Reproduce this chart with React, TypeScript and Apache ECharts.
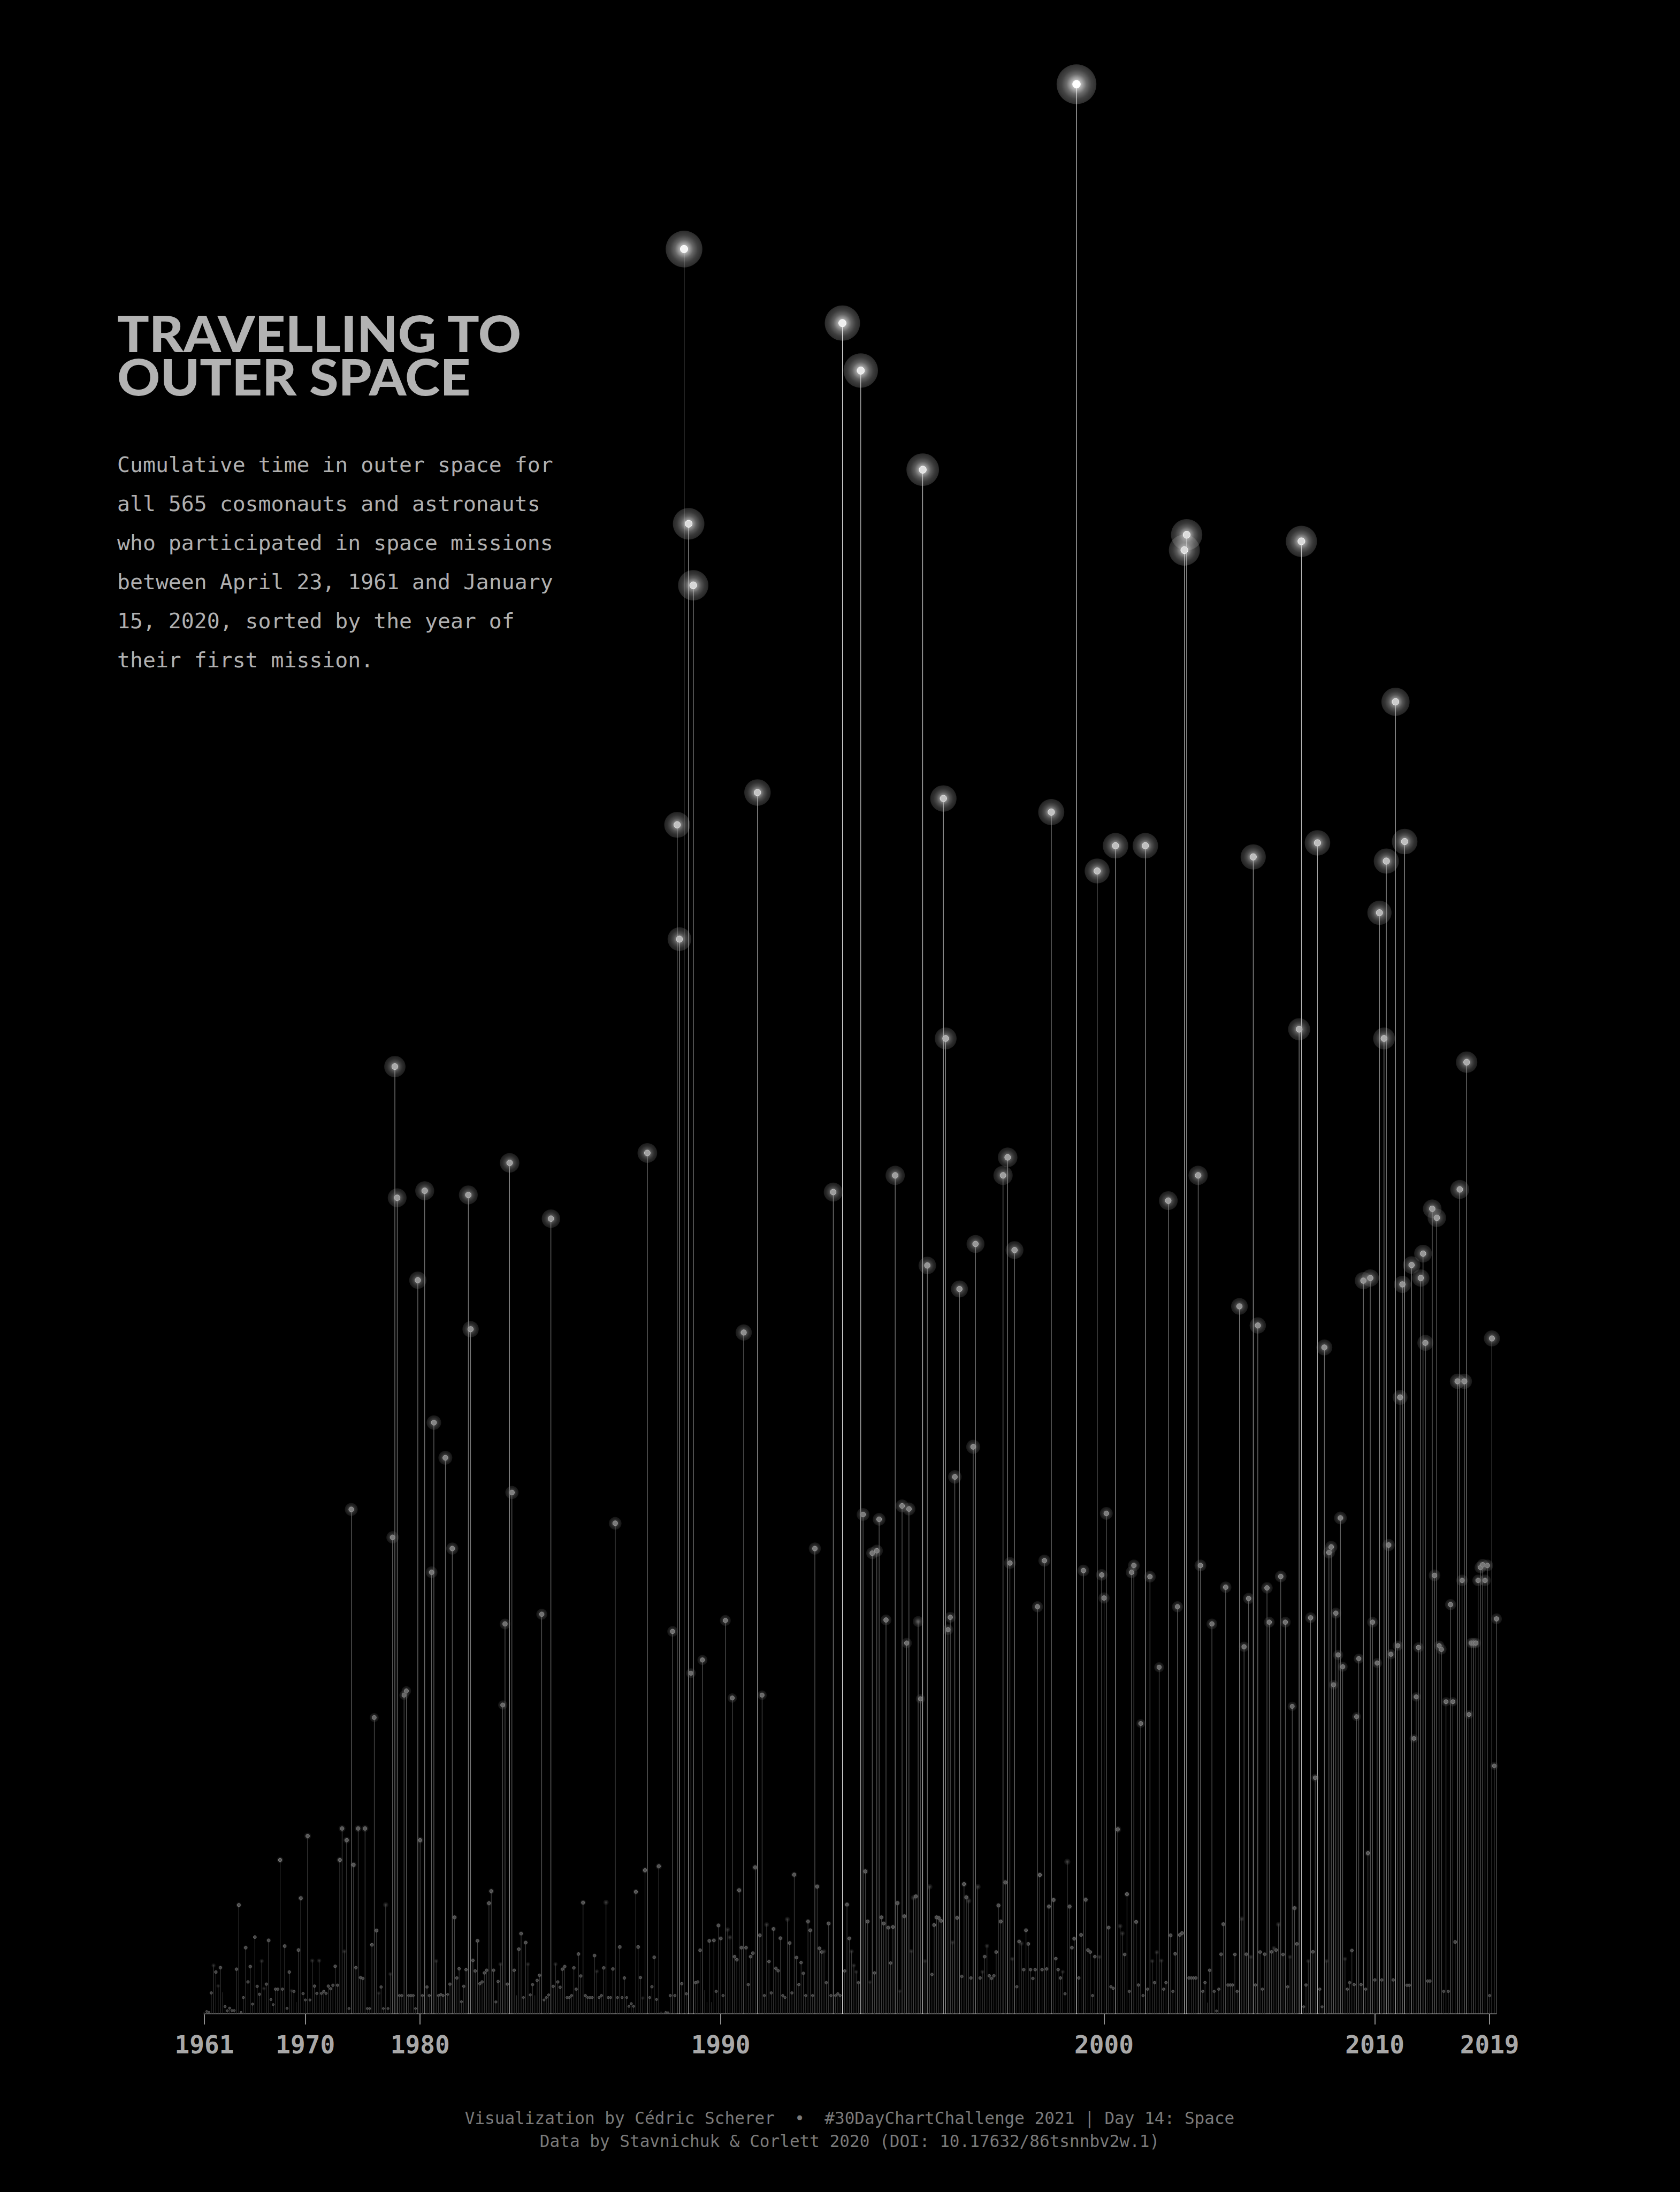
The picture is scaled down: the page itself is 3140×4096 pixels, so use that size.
import React, { useEffect, useRef } from "react";
import * as echarts from "echarts";

// Cumulative days in space per astronaut, sorted by year of first mission
const days1961to1969 = [
  0.1, 1.1, 0.7, 9.5, 22, 19, 12.7, 21, 9.8, 3.3,
  1.4, 2.6, 1.5, 1.5, 20.3, 49.5, 0.7, 7.4, 30.1, 14.5,
  21.5, 4.4, 34.9, 12.5, 8.9, 24.0, 11.5, 13.5, 33.4, 6.5,
  4.2, 11.2, 11.2, 70, 11.2, 30.8, 2.5, 19, 10.5, 10.2,
  5.3, 29, 52.6, 9.2,
];
const days1970to1979 = [
  6.3, 80.9, 6.3, 24.2, 12.6, 9.3,
  24.2, 9.3, 10.2, 9.3, 12.6, 11.4, 13, 21.6, 13, 70,
  84.3, 28.4, 79, 2.4, 229.5, 67.8, 21, 84.3, 16.5, 16.1,
  84.3, 2.4, 2.4, 31.4, 134.8, 37.9, 9.4, 12.2, 2.4, 49.6,
  2.4, 18.1, 216.8, 431, 371.3, 8.3, 8.3, 145, 146.9, 8.3,
  8.3, 8.3, 2.4, 333.8,
];
const days1980to1989 = [
  79, 8.3, 374.5, 12.2, 8.3, 200.9,
  269, 24.0, 8.3, 8.8, 8.3, 253, 8.8, 13.5, 211.7, 43.9,
  16.3, 20.5, 5.5, 12.5, 20.1, 372.6, 311.5, 24.3, 19.5, 33.2,
  13.7, 14.5, 18.6, 19.8, 50.3, 55.8, 19.8, 5.4, 14.7, 22.6,
  140.5, 177.4, 13.5, 387.2, 237.2, 19.8, 8.4, 29.4, 36.5, 7.4,
  32.4, 22.6, 8.6, 13.3, 8.4, 15.2, 17.5, 181.8, 6.3, 7.4,
  8.6, 361.8, 12.5, 22.6, 14.5, 12.1, 20.3, 21.5, 7.4, 7.4,
  8.3, 20.9, 11.2, 27.2, 17.2, 50.6, 8.3, 7.4, 7.4, 7.4,
  26.5, 19.3, 7.4, 8.3, 20.9, 50.7, 7.4, 7.4, 20.4, 223.2,
  7.4, 30.4, 7.4, 16.3, 7.4, 3.4, 4.6, 3.4, 55.5, 30.4,
  16.5, 7.2, 65.3, 391.7, 7.4, 12.3, 25.7, 6.5, 67.1, 0.4,
  0.6, 0.7, 0.5, 8.3, 174, 8.3, 541, 489, 13.7, 803,
  9.1, 678, 155, 650, 14.2, 14.5, 28.9, 161, 10.7, 5.3,
  33.2, 5.3, 33.4, 10.2, 40.2,
];
const days1990to1999 = [
  34.3, 8.3, 179, 38.3, 34.8, 143.7, 26.0, 24.6, 56.2, 30.1,
  310, 30.1, 13.3, 26.0, 27.6, 66.6, 555.7, 35.7, 145, 8.3,
  40.6, 23.8, 9.5, 38.6, 20.7, 19.6, 34.4, 8.3, 7.4, 43.0,
  32.2, 9.5, 63.3, 25.6, 13.3, 23.3, 18.4, 8.3, 42.0, 38.0,
  8.3, 211.7, 57.9, 29.8, 28.1, 28.4, 14.2, 41.1, 8.3, 373.9,
  8.3, 9.1, 8.3, 769.3, 19.5, 49.7, 34.3, 28.4, 22.0, 19.1,
  14.2, 747.7, 227.2, 64.8, 42.0, 14.4, 209.6, 18.6, 210.7, 225,
  43.9, 41.1, 179.2, 39.2, 23.1, 39.5, 381.5, 50.4, 10.3, 231.1,
  44.4, 168.7, 229.7, 28.5, 52.8, 53.4, 178.5, 143.3, 702.6, 24.0,
  340.5, 57.8, 17.9, 40.4, 43.9, 43.6, 42.3, 553, 443.8, 174.8,
  180.4, 32.5, 244.3, 43.7, 329.8, 17.0, 59.0, 53.0, 51.4, 16.3,
  258, 350.3, 57.8, 16.3, 19.1, 26.0, 30.9, 17.3, 16.1, 17.3,
  28.1, 49.3, 42.0, 381.5, 59.8, 389.7, 205.1, 25.0, 347.5, 12.3,
  32.9, 32.0, 20.1, 38.0, 31.8, 20.1, 16.1, 20.1, 185.2, 63.2,
  20.1, 206.2, 20.4, 48.8, 546.8, 51.8, 25.1, 20.1, 16.3, 19.1,
  9.1, 69.2, 48.8, 30.1, 34.2, 878, 16.3, 35.9, 201.7, 51.9,
  29.0, 28.1, 8.3, 26.0, 520, 25.9, 199.7,
];
const days2000to2009 = [
  189.2, 227.7, 39.2, 12.3, 11.6, 531.5, 83.9, 39.9,
  36.6, 27, 54.4, 10.2, 200.9, 204, 41.8, 13.1, 132.1, 8.3,
  531.5, 11.2, 198.9, 24, 14.2, 28, 157.7, 24.2, 11.2, 14.2,
  370, 35.7, 10.2, 27.3, 185.2, 35.9, 36.7, 666, 673, 16.3,
  16.3, 16.3, 16.3, 381.5, 204, 10.2, 14.2, 5.1, 19.8, 177.4,
  10.2, 1.3, 11.2, 27.1, 40.8, 194.1, 13.1, 13.1, 13.1, 27.0,
  10.2, 321.9, 43.2, 167, 27.1, 189, 25.9, 526.4, 13.1, 313.2,
  28.1, 11.2, 27.1, 193.8, 178.2, 28.2, 29.9, 29.0, 40.7, 199,
  27.0, 178.2, 12.3, 25.9, 139.9, 48.1, 31.8, 448, 670, 3.2,
  13.1, 24.0, 180.2, 28.2, 107.4, 532.8, 11.2, 3.2, 303.2, 24.0,
  209.9, 212.4, 149.7, 182.3, 163.3, 225.6, 157.9, 25.0, 11.2, 14.2,
  28.8, 13.3, 135.2, 161.6, 13.3, 333.6, 11.2, 73.1, 334.8, 178.2,
];
const days2010to2019 = [
  15.4, 159.6, 501, 15.4, 443.8, 524.5, 213.3, 163.6, 15.4, 597,
  167.5, 280.5, 331.9, 533.4, 13.0, 13.0, 340.7, 125.3, 144.2, 166.7,
  334.8, 345.9, 305.3, 14.9, 14.9, 366.3, 199.5, 362.2, 167.5, 165.8,
  10.2, 142, 10.2, 186.2, 142, 32.7, 287.8, 375.1, 197.2, 287.8,
  433, 136.2, 168.7, 168.7, 168.7, 197.2, 203.1, 204.3, 197.2, 204,
  8.3, 307.3, 112.8, 179.7,
];

const tickYears = ["1961", "1970", "1980", "1990", "2000", "2010", "2019"];
const tickIndices = [0, 44, 94, 225, 392, 510, 560];

const titleText = "TRAVELLING TO\nOUTER SPACE";
const subtitleLines = [
  "Cumulative time in outer space for",
  "all 565 cosmonauts and astronauts",
  "who participated in space missions",
  "between April 23, 1961 and January",
  "15, 2020, sorted by the year of",
  "their first mission.",
];
const captionLines = [
  "Visualization by Cédric Scherer  •  #30DayChartChallenge 2021 | Day 14: Space",
  "Data by Stavnichuk & Corlett 2020 (DOI: 10.17632/86tsnnbv2w.1)",
];

const allDays = [
  ...days1961to1969,
  ...days1970to1979,
  ...days1980to1989,
  ...days1990to1999,
  ...days2000to2009,
  ...days2010to2019,
];

const W = 3140;
const H = 4096;

export default function App() {
  const ref = useRef<HTMLDivElement>(null);

  useEffect(() => {
    if (!ref.current) return;
    const chart = echarts.init(ref.current, null, { renderer: "svg", width: W, height: H });
    const maxV = Math.max(...allDays);
    const grayOf = (v: number) => {
      const t = Math.max(0, v / maxV);
      return Math.round(55 + 200 * Math.pow(t, 0.85));
    };
    const rgb = (g: number) => `rgb(${g},${g},${g})`;
    const rgba = (g: number, a: number) => `rgba(${g},${g},${g},${a})`;

    const categories = allDays.map((_, i) => {
      const k = tickIndices.indexOf(i);
      return k >= 0 ? tickYears[k] : String(i);
    });
    const lineData = allDays.map((v, i) => [i, v]);
    const pointData = allDays.map((v, i) => [i, v]).sort((a, b) => a[1] - b[1]);

    const graphics: any[] = [];
    graphics.push({
      type: "text",
      x: 219,
      y: 662.5,
      scaleX: 1.066,
      silent: true,
      style: {
        text: titleText,
        fill: "#b3b3b3",
        font: '900 93px "Lato"',
        lineHeight: 81,
        align: "left",
        verticalAlign: "middle",
      },
    });
    const subY0 = 868;
    subtitleLines.forEach((t, k) => {
      graphics.push({
        type: "text",
        x: 219,
        y: subY0 + k * 73,
        silent: true,
        style: {
          text: t,
          fill: "#b0b0b0",
          font: '39.8px "DejaVu Sans Mono"',
          align: "left",
          verticalAlign: "middle",
        },
      });
    });
    const capY = [3958, 4001];
    captionLines.forEach((t, k) => {
      graphics.push({
        type: "text",
        x: 1588,
        y: capY[k],
        scaleX: 0.97,
        silent: true,
        style: {
          text: t,
          fill: "#7a7a7a",
          font: '32px "DejaVu Sans Mono"',
          align: "center",
          verticalAlign: "middle",
        },
      });
    });

    const option: any = {
      animation: false,
      backgroundColor: "#000000",
      grid: { left: 382, top: 67, width: 2415, height: 3696, containLabel: false },
      xAxis: {
        type: "category",
        data: categories,
        boundaryGap: false,
        axisLine: { show: true, lineStyle: { color: "#7a7a7a", width: 1.5 } },
        axisTick: {
          show: true,
          interval: (i: number) => tickIndices.includes(i),
          length: 20,
          lineStyle: { color: "#bdbdbd", width: 1.5 },
        },
        axisLabel: {
          show: true,
          interval: (i: number) => tickIndices.includes(i),
          formatter: (val: string) => (tickYears.includes(val) ? val : ""),
          color: "#a8a8a8",
          fontSize: 46,
          fontWeight: "bold",
          fontFamily: "DejaVu Sans Mono",
          margin: 35,
        },
        splitLine: { show: false },
      },
      yAxis: { type: "value", min: 0, max: 900, show: false },
      series: [
        {
          type: "custom",
          name: "stems",
          data: lineData,
          silent: true,
          z: 2,
          renderItem: (params: any, api: any) => {
            const i = api.value(0);
            const v = api.value(1);
            const b = api.coord([i, 0]);
            const p = api.coord([i, v]);
            const g = grayOf(v);
            return {
              type: "line",
              shape: { x1: b[0], y1: b[1], x2: p[0], y2: p[1] },
              style: { stroke: rgb(g), lineWidth: 1 },
            };
          },
        },
        {
          type: "custom",
          name: "stars",
          data: pointData,
          silent: true,
          z: 3,
          renderItem: (params: any, api: any) => {
            const i = api.value(0);
            const v = api.value(1);
            const p = api.coord([i, v]);
            const t = v / maxV;
            const g = grayOf(v);
            const rh = 3.2 + 34 * t;
            const rc = 1.7 + 5.6 * Math.sqrt(t);
            return {
              type: "group",
              children: [
                {
                  type: "circle",
                  shape: { cx: p[0], cy: p[1], r: rh },
                  style: {
                    fill: new echarts.graphic.RadialGradient(0.5, 0.5, 0.5, [
                      { offset: 0, color: rgba(g, 0.95) },
                      { offset: 0.25, color: rgba(g, 0.7) },
                      { offset: 0.5, color: rgba(g, 0.42) },
                      { offset: 0.75, color: rgba(g, 0.26) },
                      { offset: 1, color: rgba(g, 0.18) },
                    ]),
                  },
                },
                {
                  type: "circle",
                  shape: { cx: p[0], cy: p[1], r: rc },
                  style: {
                    fill: rgb(Math.min(255, g + 5)),
                    stroke: rgb(Math.min(255, g + 40)),
                    lineWidth: 1,
                  },
                },
              ],
            };
          },
        },
      ],
      graphic: graphics,
    };
    chart.setOption(option);
    return () => chart.dispose();
  }, []);

  return (
    <div
      ref={ref}
      style={{ position: "absolute", left: 0, top: 0, width: W, height: H, background: "#000" }}
    />
  );
}
